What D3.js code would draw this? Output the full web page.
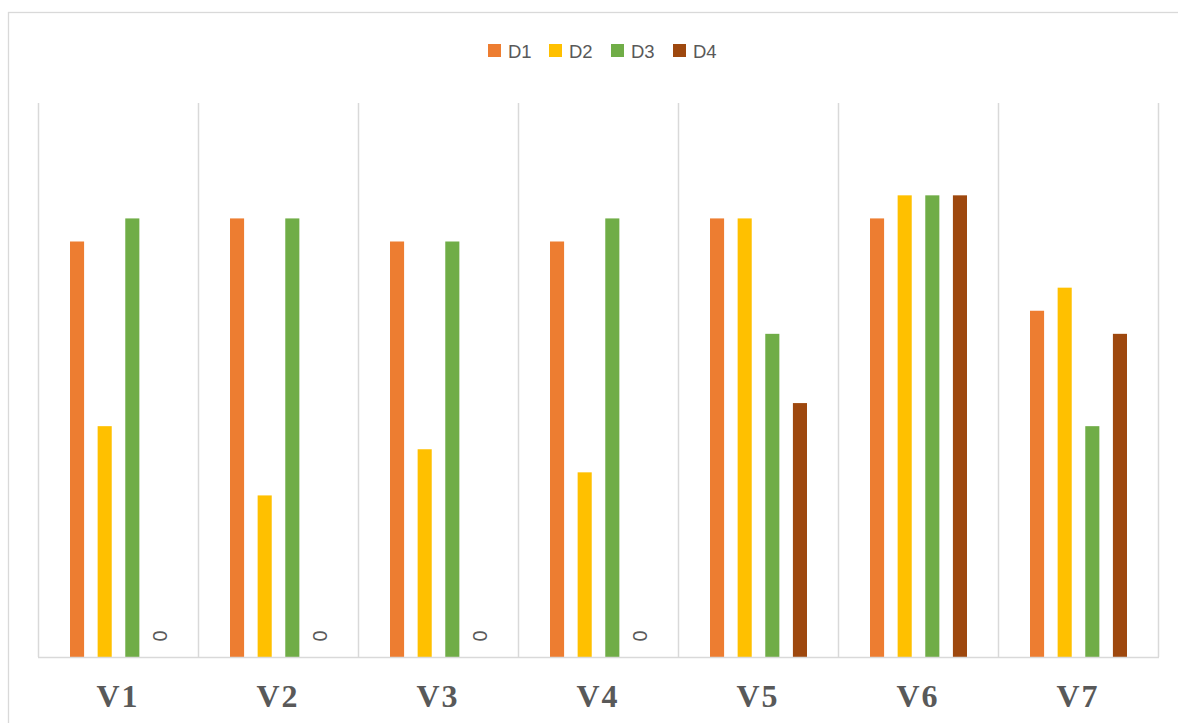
<!DOCTYPE html>
<html>
<head>
<meta charset="utf-8">
<script src="https://d3js.org/d3.v7.min.js"></script>
<style>
  html, body { margin: 0; padding: 0; background: #ffffff; }
  svg { display: block; }
</style>
</head>
<body>
<svg id="chart" width="1178" height="723"></svg>
<script>
// Categories and series
const categories = ["V1", "V2", "V3", "V4", "V5", "V6", "V7"];
const seriesNames = ["D1", "D2", "D3", "D4"];
const d1 = [18, 19, 18, 18, 19, 19, 15];
const d2 = [10, 7, 9, 8, 19, 20, 16];
const d3v = [19, 19, 18, 19, 14, 20, 10];
const d4 = [0, 0, 0, 0, 11, 20, 14];
const seriesColors = ["#ED7D31", "#FFC000", "#70AD47", "#9E480E"];
const yMax = 24;

const seriesValues = [d1, d2, d3v, d4];

const svg = d3.select("#chart");
const W = 1178, H = 723;

// Plot area
const plot = { left: 38, right: 1158, top: 103, bottom: 657 };

// Outer chart frame (extends past the visible window on right and bottom)
svg.append("rect")
  .attr("x", 8.5).attr("y", 12.5)
  .attr("width", W + 20).attr("height", H + 20)
  .attr("fill", "#ffffff")
  .attr("stroke", "#d9d9d9")
  .attr("stroke-width", 1.3);

const x0 = d3.scaleBand()
  .domain(categories)
  .range([plot.left, plot.right])
  .paddingInner(0)
  .paddingOuter(0);

// Bars occupy the middle of each category band
const groupWidth = 97;
const x1 = d3.scaleBand()
  .domain(seriesNames)
  .range([0, groupWidth])
  .paddingInner(0.49)
  .paddingOuter(0);

const y = d3.scaleLinear()
  .domain([0, yMax])
  .range([plot.bottom, plot.top]);

// Vertical category separators
const bounds = categories.map(c => x0(c)).concat([plot.right]);
svg.append("g")
  .selectAll("line")
  .data(bounds)
  .join("line")
  .attr("x1", d => d + 0.5).attr("x2", d => d + 0.5)
  .attr("y1", plot.top).attr("y2", plot.bottom)
  .attr("stroke", "#d9d9d9")
  .attr("stroke-width", 1.5);

// Bars
const rows = [];
categories.forEach((c, i) => {
  seriesNames.forEach((s, j) => {
    rows.push({ cat: c, series: s, value: seriesValues[j][i], color: seriesColors[j] });
  });
});

const groupOffset = (x0.bandwidth() - groupWidth) / 2 + 0.5;

svg.append("g")
  .selectAll("rect")
  .data(rows.filter(d => d.value > 0))
  .join("rect")
  .attr("x", d => x0(d.cat) + groupOffset + x1(d.series))
  .attr("y", d => y(d.value))
  .attr("width", x1.bandwidth())
  .attr("height", d => y(0) - y(d.value))
  .attr("fill", d => d.color);

// Zero-value labels, rotated
svg.append("g")
  .selectAll("text")
  .data(rows.filter(d => d.value === 0))
  .join("text")
  .attr("transform", d => {
    const cx = x0(d.cat) + groupOffset + x1(d.series) + x1.bandwidth() / 2;
    const cy = y(d.value) - 21;
    return `translate(${cx},${cy}) rotate(-90)`;
  })
  .attr("text-anchor", "middle")
  .attr("dominant-baseline", "central")
  .attr("font-family", "Liberation Sans, Arial, sans-serif")
  .attr("font-size", 20)
  .attr("fill", "#595959")
  .text(d => d.value);

// Baseline
svg.append("line")
  .attr("x1", plot.left).attr("x2", plot.right + 1)
  .attr("y1", plot.bottom + 0.5).attr("y2", plot.bottom + 0.5)
  .attr("stroke", "#d9d9d9")
  .attr("stroke-width", 1.5);

// Category axis labels
const xAxis = d3.axisBottom(x0).tickSize(0).tickPadding(0);
const gx = svg.append("g")
  .attr("transform", `translate(0,${plot.bottom})`)
  .call(xAxis);
gx.select(".domain").remove();
gx.selectAll("text")
  .attr("y", 50)
  .attr("dy", null)
  .attr("font-family", "Liberation Serif, 'Times New Roman', serif")
  .attr("font-weight", "bold")
  .attr("font-size", 32)
  .attr("letter-spacing", 2)
  .attr("fill", "#595959");

// Legend
const legendX = [488, 549, 611, 673];
const legend = svg.append("g");
seriesNames.forEach((s, j) => {
  legend.append("rect")
    .attr("x", legendX[j]).attr("y", 44)
    .attr("width", 13).attr("height", 13)
    .attr("fill", seriesColors[j]);
  legend.append("text")
    .attr("x", legendX[j] + 20).attr("y", 57.5)
    .attr("font-family", "Liberation Sans, Arial, sans-serif")
    .attr("font-size", 18.5)
    .attr("fill", "#595959")
    .text(s);
});
</script>
</body>
</html>
